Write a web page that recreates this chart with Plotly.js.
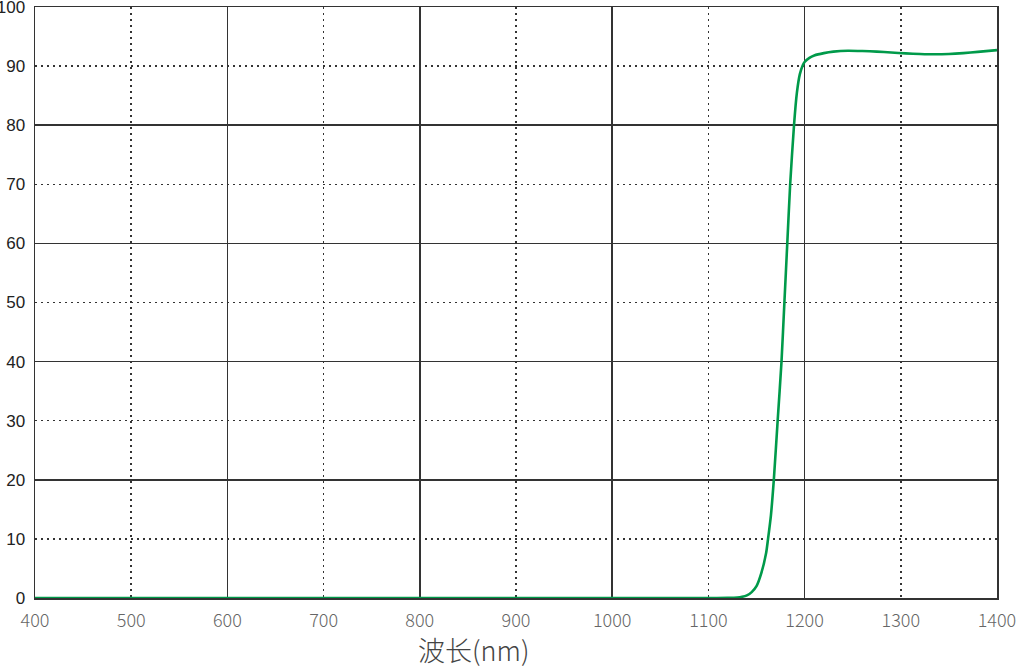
<!DOCTYPE html>
<html>
<head>
<meta charset="utf-8">
<script src="https://cdn.plot.ly/plotly-3.0.1.min.js"></script>
<style>
  html, body { margin: 0; padding: 0; background: #fff; }
  #chart { width: 1024px; height: 671px; }
</style>
</head>
<body>
<div id="chart"></div>
<script>
// wavelength (nm) and transmittance (%)
var wavelength = [400, 600, 800, 1000, 1100, 1120, 1130, 1135, 1140, 1145, 1150, 1155, 1160, 1162,
    1165, 1168, 1172, 1176, 1179, 1182, 1185, 1189, 1192, 1195, 1198, 1200, 1205, 1210,
    1220, 1230, 1245, 1260, 1275, 1290, 1305, 1320, 1335, 1350, 1365, 1380, 1400];
var transmittance = [0, 0, 0, 0, 0, 0.02, 0.08, 0.2, 0.45, 1.0, 2.0, 4.2, 7.6, 10,
    14, 20, 30, 40, 50, 60, 70, 80, 85.5, 88.6, 90.1, 90.7, 91.4, 91.8,
    92.2, 92.45, 92.6, 92.55, 92.45, 92.3, 92.15, 92.05, 92.0, 92.05, 92.2, 92.4, 92.7];

var xTicks = [400, 500, 600, 700, 800, 900, 1000, 1100, 1200, 1300, 1400];
var yTicks = [0, 10, 20, 30, 40, 50, 60, 70, 80, 90, 100];
var xTitle = '波长(nm)';

var gridCol = '#333333';

var curve = {
    type: 'scatter',
    mode: 'lines',
    x: wavelength,
    y: transmittance,
    line: { color: '#009a4a', width: 2.6, shape: 'spline', smoothing: 0.6 },
    cliponaxis: false,
    hoverinfo: 'x+y'
};
// empty trace so the solid-grid overlay axes get a subplot
var gridHolder = { type: 'scatter', x: [], y: [], xaxis: 'x2', yaxis: 'y2', showlegend: false };

var layout = {
    width: 1024,
    height: 671,
    margin: { l: 35, r: 27, t: 7, b: 73 },
    paper_bgcolor: '#ffffff',
    plot_bgcolor: '#ffffff',
    showlegend: false,
    xaxis: {
        range: [400, 1400],
        tickvals: xTicks,
        ticktext: xTicks.map(String),
        showgrid: true,
        gridcolor: gridCol,
        gridwidth: 1.5,
        griddash: '2px,4px',
        zeroline: false,
        showline: true,
        mirror: true,
        linecolor: gridCol,
        linewidth: 1.5,
        ticks: '',
        ticklabelstandoff: 6,
        ticklabeloverflow: 'allow',
        layer: 'below traces',
        tickfont: { family: 'Noto Sans CJK SC, Noto Sans, sans-serif', size: 18, color: '#666666', weight: 300 }
    },
    yaxis: {
        range: [0, 100],
        tickvals: yTicks,
        ticktext: yTicks.map(String),
        showgrid: true,
        gridcolor: gridCol,
        gridwidth: 1.5,
        griddash: '2px,4px',
        zeroline: false,
        showline: true,
        mirror: true,
        linecolor: gridCol,
        linewidth: 1.5,
        ticks: '',
        ticklabelstandoff: 5,
        ticklabeloverflow: 'allow',
        layer: 'below traces',
        tickfont: { family: 'Liberation Sans, Arial, sans-serif', size: 17, color: '#222222' }
    },
    xaxis2: {
        overlaying: 'x',
        range: [400, 1400],
        dtick: 200,
        tick0: 400,
        showgrid: true,
        gridcolor: gridCol,
        gridwidth: 1.5,
        showticklabels: false,
        zeroline: false,
        ticks: ''
    },
    yaxis2: {
        overlaying: 'y',
        range: [0, 100],
        dtick: 20,
        tick0: 0,
        showgrid: true,
        gridcolor: gridCol,
        gridwidth: 1.5,
        showticklabels: false,
        zeroline: false,
        ticks: ''
    },
    annotations: [{
        text: xTitle,
        xref: 'paper', yref: 'paper',
        x: (473 - 35) / 962, y: -(650 - 598) / 592,
        xanchor: 'center', yanchor: 'middle',
        showarrow: false,
        font: { family: 'Noto Sans CJK SC, sans-serif', size: 27, color: '#444444', weight: 300 }
    }]
};

Plotly.newPlot('chart', [gridHolder, curve], layout, { displayModeBar: false, staticPlot: true });
</script>
</body>
</html>
